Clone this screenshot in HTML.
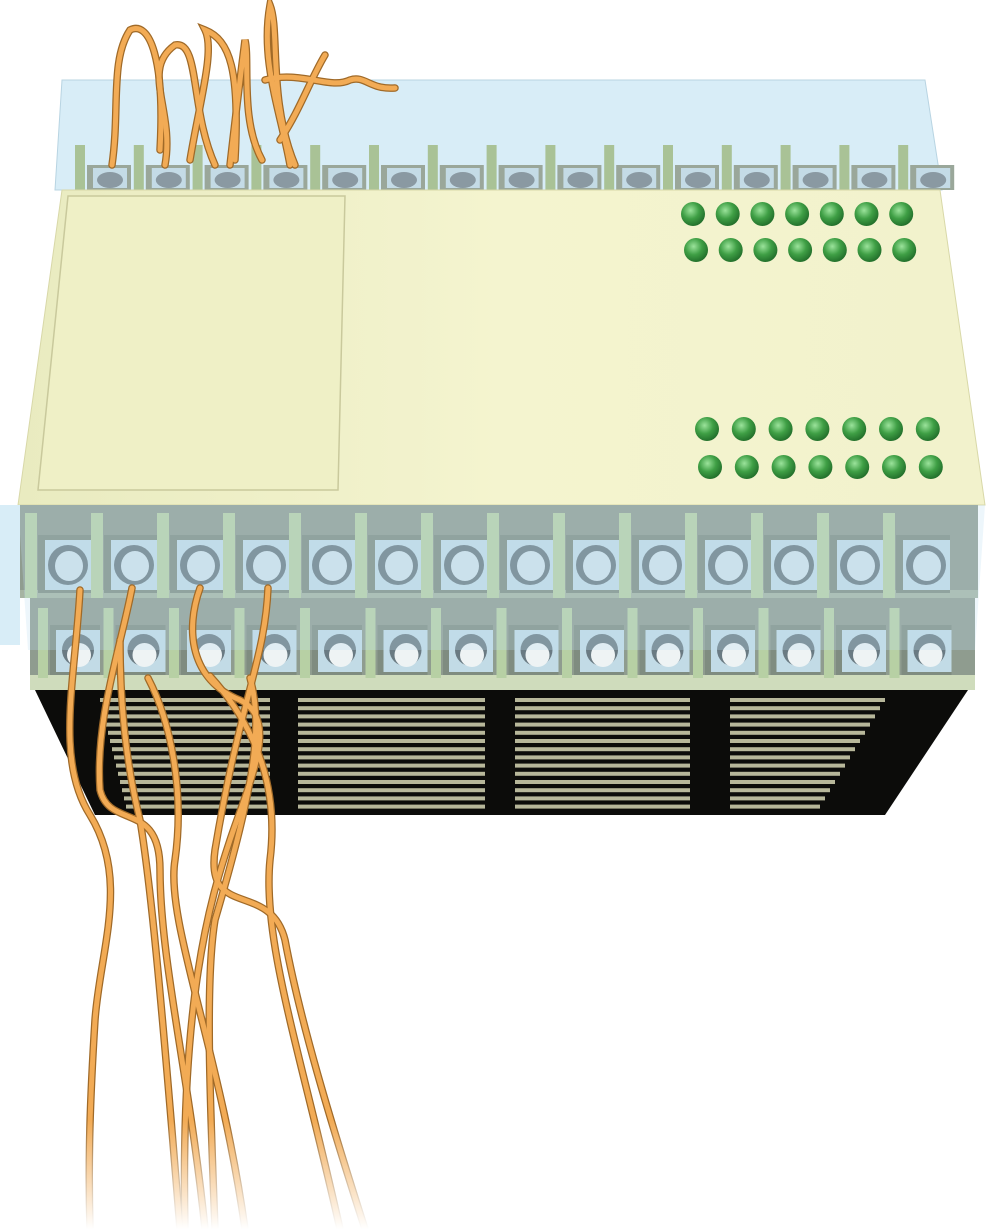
<!DOCTYPE html>
<html><head><meta charset="utf-8"><style>html,body{margin:0;padding:0;background:#fff}svg{display:block}</style></head>
<body>
<svg id="s" width="1003" height="1229" viewBox="0 0 1003 1229" xmlns="http://www.w3.org/2000/svg">
<defs>
<linearGradient id="body" x1="0" x2="1" y1="0" y2="0"><stop offset="0" stop-color="#e9ebc0"/><stop offset="0.5" stop-color="#f4f4cf"/><stop offset="1" stop-color="#f2f2cc"/></linearGradient>
<radialGradient id="led" cx="0.4" cy="0.35" r="0.7"><stop offset="0" stop-color="#9be39b"/><stop offset="0.5" stop-color="#3f9f45"/><stop offset="1" stop-color="#1f6a28"/></radialGradient>
<linearGradient id="fade" x1="0" y1="0" x2="0" y2="1"><stop offset="0" stop-color="#fff" stop-opacity="0"/><stop offset="1" stop-color="#fff" stop-opacity="1"/></linearGradient>
</defs>
<polygon points="62,80 925,80 942,190 55,190" fill="#d8edf7" stroke="#b8d4e2"/>
<g id="topT"></g>
<polygon points="35,690 968,690 885,815 95,815" fill="#0c0c0a"/>
<g id="vents"></g>
<polygon points="62,190 940,190 985,505 18,505" fill="url(#body)" stroke="#d8d8a8"/>
<polygon points="68,196 345,196 338,490 38,490" fill="#eff0c6" stroke="#c9c99c" stroke-width="1.5"/>
<g id="leds"></g>
<g id="row1"></g>
<g id="row2"></g>
<polygon points="18,505 985,505 975,650 28,650" fill="#bfe0f0" opacity="0.28"/>
<rect x="0" y="505" width="20" height="140" fill="#d8edf7"/>
<g id="wires" fill="none" stroke-linecap="round"></g>
<rect x="0" y="1120" width="1003" height="109" fill="url(#fade)"/>
</svg>
<script>
const NS="http://www.w3.org/2000/svg";
function add(p,tag,a){const e=document.createElementNS(NS,tag);for(const k in a)e.setAttribute(k,a[k]);document.getElementById(p).appendChild(e);return e;}
for(let i=0;i<15;i++){const x=75+i*58.8;
 add('topT','rect',{x:x,y:145,width:10,height:45,fill:'#a9c296'});
 add('topT','rect',{x:x+12,y:165,width:44,height:25,fill:'#9aa79a'});
 add('topT','rect',{x:x+18,y:168,width:34,height:20,fill:'#c4dbe6'});
 add('topT','ellipse',{cx:x+35,cy:180,rx:13,ry:8,fill:'#8a99a2'});
}
const vg=[[100,270],[298,485],[515,690],[730,885]];
for(let j=0;j<14;j++){const y=698+j*8.2;
 vg.forEach(([a,b],k)=>{let aa=a+ (k==0? j*2:0), bb=b-(k==3? j*5:0);
 add('vents','rect',{x:aa,y:y,width:bb-aa,height:4,fill:'#b7b79a'});});}
function ledRow(x0,y,st){for(let i=0;i<7;i++)add('leds','circle',{cx:x0+i*st,cy:y,r:12,fill:'url(#led)'});}
ledRow(693,214,34.7);ledRow(696,250,34.7);ledRow(707,429,36.8);ledRow(710,467,36.8);
add('row1','rect',{x:20,y:505,width:958,height:93,fill:'#8f9c8f'});
add('row1','rect',{x:20,y:590,width:958,height:8,fill:'#a6b4a2'});
for(let i=0;i<14;i++){const x=25+i*66;
 add('row1','rect',{x:x,y:513,width:12,height:85,fill:'#b7d0a4'});
 add('row1','rect',{x:x+13,y:535,width:54,height:58,fill:'#7f8c80'});
 add('row1','rect',{x:x+20,y:540,width:47,height:50,fill:'#c2dbe6'});
 add('row1','circle',{cx:x+43,cy:565,r:20,fill:'#6a7a82'});
 add('row1','ellipse',{cx:x+44,cy:566,rx:14,ry:15,fill:'#d0e2ea'});
}
add('row2','rect',{x:30,y:598,width:945,height:92,fill:'#8f9c8f'});
add('row2','rect',{x:30,y:675,width:945,height:15,fill:'#cfdcbc'});
for(let i=0;i<14;i++){const x=38+i*65.5;
 add('row2','rect',{x:x,y:608,width:10,height:70,fill:'#b7d0a4'});
 add('row2','rect',{x:x+12,y:625,width:50,height:50,fill:'#7f8c80'});
 add('row2','rect',{x:x+18,y:630,width:44,height:42,fill:'#c2dbe6'});
 add('row2','circle',{cx:x+40,cy:650,r:16,fill:'#6a7a82'});
 add('row2','ellipse',{cx:x+41,cy:655,rx:12,ry:12,fill:'#eef3f4'});
}
const W=[
"M80,590 C75,680 55,760 90,815 C130,880 100,950 95,1020 C90,1100 88,1160 90,1229",
"M132,588 C120,650 95,720 100,790 C110,830 160,800 160,870 C160,960 190,1080 205,1229",
"M200,588 C185,630 190,680 240,700 C280,720 250,780 230,840 C210,900 180,1000 185,1229",
"M268,588 C265,660 240,700 215,850 C205,920 270,880 285,940 C300,1020 330,1120 365,1229",
"M148,678 C170,720 185,790 175,860 C165,920 220,1050 245,1229",
"M210,676 C250,720 280,780 270,860 C262,940 300,1050 340,1229",
"M120,640 C120,700 125,760 140,820 C150,880 160,980 180,1229",
"M250,678 C265,730 250,800 215,920 C205,980 210,1100 215,1229",
"M112,165 C120,110 110,60 130,30 C150,20 165,60 160,150",
"M165,165 C175,110 140,70 175,45 C200,40 190,110 215,165",
"M230,165 C235,120 240,80 245,40 C250,60 240,120 262,160",
"M290,165 C280,110 260,60 270,5 C280,30 268,100 295,165",
"M265,80 C300,70 330,90 350,80 C365,75 370,90 395,88",
"M190,160 C200,100 215,50 205,30 C230,40 240,70 235,160",
"M280,140 C300,110 310,80 325,55"];
W.forEach(d=>{add('wires','path',{d:d,stroke:'#a06a28','stroke-width':7.5});});
W.forEach(d=>{add('wires','path',{d:d,stroke:'#f2ab55','stroke-width':5});});
</script>
</body></html>
